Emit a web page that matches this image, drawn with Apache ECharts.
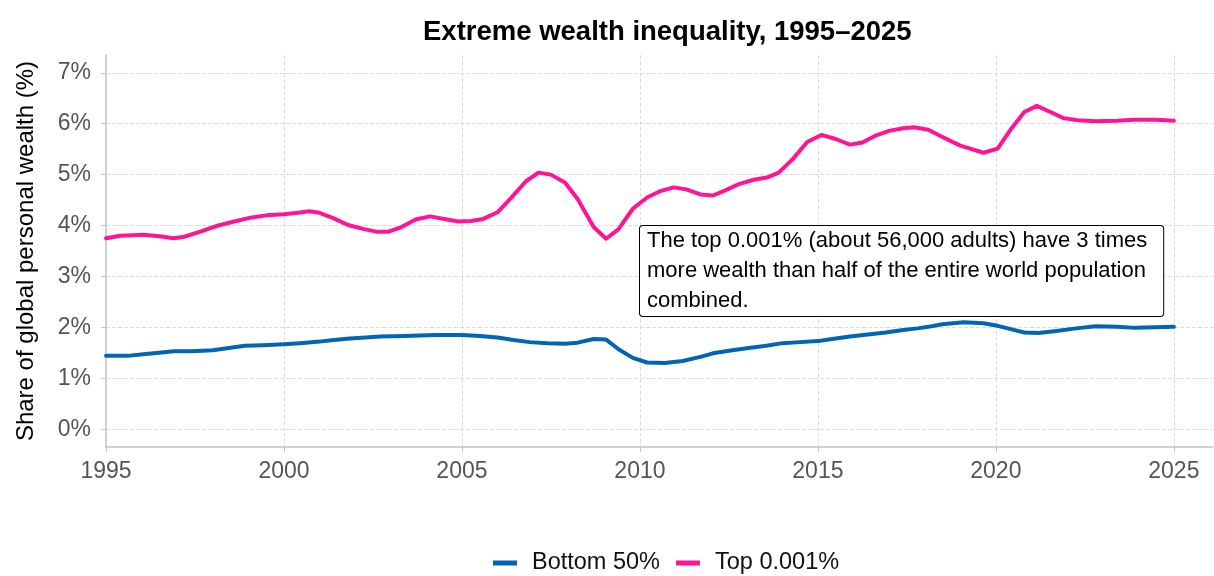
<!DOCTYPE html>
<html>
<head>
<meta charset="utf-8">
<title>Extreme wealth inequality, 1995–2025</title>
<script src="https://cdn.jsdelivr.net/npm/echarts@6/dist/echarts.min.js"></script>
<style>
  html, body { margin: 0; padding: 0; background: #fff; }
  #chart { width: 1214px; height: 576px; }
</style>
</head>
<body>
<div id="chart"></div>
<script>
// share of global personal wealth (%)
const topYears = [
  1995.0, 1995.4, 1996.05, 1996.5, 1996.9, 1997.2, 1997.65, 1998.1, 1998.6, 1999.1,
  1999.5, 2000.0, 2000.4, 2000.7, 2001.0, 2001.4, 2001.8, 2002.25, 2002.6, 2002.94,
  2003.3, 2003.7, 2004.1, 2004.5, 2004.9, 2005.25, 2005.6, 2006.0, 2006.35, 2006.8,
  2007.15, 2007.5, 2007.9, 2008.25, 2008.7, 2009.05, 2009.4, 2009.8, 2010.2, 2010.55,
  2010.95, 2011.3, 2011.7, 2012.05, 2012.4, 2012.8, 2013.2, 2013.6, 2013.9, 2014.3,
  2014.7, 2015.1, 2015.5, 2015.9, 2016.25, 2016.6, 2017.0, 2017.4, 2017.7, 2018.1,
  2018.5, 2019.0, 2019.65, 2020.05, 2020.4, 2020.8, 2021.15, 2021.5, 2021.9, 2022.3,
  2022.8, 2023.4, 2023.9, 2024.5, 2025.0
]
const topShare = [
  3.75, 3.80, 3.82, 3.79, 3.75, 3.78, 3.88, 3.99, 4.08, 4.16,
  4.20, 4.22, 4.25, 4.28, 4.25, 4.14, 4.01, 3.93, 3.88, 3.88,
  3.97, 4.12, 4.18, 4.13, 4.08, 4.09, 4.13, 4.26, 4.52, 4.87,
  5.04, 5.00, 4.84, 4.52, 3.97, 3.74, 3.93, 4.33, 4.55, 4.67,
  4.75, 4.71, 4.61, 4.59, 4.69, 4.82, 4.90, 4.95, 5.04, 5.31,
  5.64, 5.78, 5.70, 5.59, 5.63, 5.76, 5.86, 5.91, 5.93, 5.88,
  5.74, 5.57, 5.43, 5.51, 5.87, 6.23, 6.35, 6.24, 6.11, 6.07,
  6.05, 6.06, 6.08, 6.08, 6.06
]

const bottomYears = [
  1995.0, 1995.6, 1996.05, 1996.5, 1996.9, 1997.4, 1998.0, 1998.4, 1998.9, 1999.4,
  2000.0, 2000.45, 2001.0, 2001.4, 2001.85, 2002.3, 2002.7, 2003.4, 2003.8, 2004.3,
  2005.0, 2005.5, 2006.0, 2006.45, 2006.9, 2007.4, 2007.9, 2008.25, 2008.7, 2009.05,
  2009.4, 2009.8, 2010.2, 2010.7, 2011.2, 2011.7, 2012.05, 2012.5, 2013.0, 2013.55,
  2014.0, 2014.5, 2015.0, 2015.4, 2015.9, 2016.4, 2016.9, 2017.4, 2017.8, 2018.1,
  2018.5, 2019.1, 2019.65, 2020.05, 2020.5, 2020.8, 2021.2, 2021.7, 2022.25, 2022.8,
  2023.4, 2023.9, 2024.5, 2025.0
]
const bottomShare = [
  1.44, 1.44, 1.47, 1.50, 1.53, 1.53, 1.55, 1.59, 1.64, 1.65,
  1.67, 1.69, 1.72, 1.75, 1.78, 1.80, 1.82, 1.83, 1.84, 1.85,
  1.85, 1.83, 1.80, 1.75, 1.71, 1.69, 1.68, 1.70, 1.77, 1.76,
  1.57, 1.40, 1.31, 1.30, 1.34, 1.42, 1.49, 1.54, 1.59, 1.64,
  1.69, 1.71, 1.73, 1.77, 1.82, 1.86, 1.90, 1.95, 1.98, 2.01,
  2.06, 2.10, 2.08, 2.03, 1.95, 1.90, 1.89, 1.93, 1.98, 2.02,
  2.01, 1.99, 2.00, 2.01
]

const xTicks = [1995, 2000, 2005, 2010, 2015, 2020, 2025]
const yTicks = [0, 1, 2, 3, 4, 5, 6, 7]

const seriesNames = ['Bottom 50%', 'Top 0.001%']
const noteText = 'The top 0.001% (about 56,000 adults) have 3 times\nmore wealth than half of the entire world population\ncombined.'

const FONT = '"Liberation Sans", Arial, sans-serif'
const gridColor = '#dcdcdc'
const axisColor = '#c4c4c4'

const zip = (xs, ys) => xs.map((x, i) => [x, ys[i]])

const chart = echarts.init(document.getElementById('chart'), null, { renderer: 'canvas' })

const option = {
  animation: false,
  backgroundColor: '#fff',
  textStyle: { fontFamily: FONT },
  title: {
    text: 'Extreme wealth inequality, 1995–2025',
    left: 418,
    top: 13,
    textStyle: { fontFamily: FONT, fontSize: 27.5, fontWeight: 'bold', color: '#000' },
  },
  legend: {
    data: seriesNames,
    left: 488,
    top: 546,
    itemWidth: 24,
    itemHeight: 5,
    itemGap: 16,
    icon: 'rect',
    textStyle: { fontFamily: FONT, fontSize: 23.5, color: '#111', padding: [0, 0, 0, 10] },
  },
  grid: {
    left: 106,
    right: 1,
    top: 55,
    bottom: 129,
    containLabel: false,
  },
  xAxis: {
    type: 'value',
    min: 1995,
    max: 2026.1,
    axisLine: { show: true, onZero: false, lineStyle: { color: axisColor, width: 1.5 } },
    axisTick: { show: true, length: 5, customValues: xTicks, lineStyle: { color: axisColor } },
    axisLabel: {
      customValues: xTicks,
      fontFamily: FONT,
      fontSize: 23,
      color: '#555',
      margin: 13,
      formatter: (v) => String(v),
    },
    splitLine: { show: true, lineStyle: { color: gridColor, type: 'dashed', width: 1 } },
  },
  yAxis: {
    type: 'value',
    min: -0.35,
    max: 7.35,
    name: 'Share of global personal wealth (%)',
    nameLocation: 'middle',
    nameGap: 68,
    nameTextStyle: { fontFamily: FONT, fontSize: 24, color: '#000' },
    axisLine: { show: true, onZero: false, lineStyle: { color: axisColor, width: 1.5 } },
    axisTick: { show: true, length: 5, customValues: yTicks, lineStyle: { color: axisColor } },
    axisLabel: {
      customValues: yTicks,
      fontFamily: FONT,
      fontSize: 23,
      color: '#555',
      margin: 15,
      formatter: (v) => v + '%',
    },
    splitLine: { show: true, lineStyle: { color: gridColor, type: 'dashed', width: 1 } },
  },
  series: [
    {
      name: seriesNames[0],
      type: 'line',
      data: zip(bottomYears, bottomShare),
      showSymbol: false,
      smooth: false,
      lineStyle: { width: 4, color: '#0066B3', join: 'round', cap: 'round' },
      itemStyle: { color: '#0066B3' },
      z: 3,
    },
    {
      name: seriesNames[1],
      type: 'line',
      data: zip(topYears, topShare),
      showSymbol: false,
      smooth: false,
      lineStyle: { width: 4, color: '#FF1493', join: 'round', cap: 'round' },
      itemStyle: { color: '#FF1493' },
      z: 3,
    },
  ],
  graphic: [
    {
      type: 'text',
      left: 639,
      top: 225,
      z: 10,
      style: {
        text: noteText,
        font: '22px ' + FONT,
        fill: '#000',
        lineHeight: 30,
        backgroundColor: '#fff',
        borderColor: '#000',
        borderWidth: 1,
        borderRadius: 3,
        padding: [0, 16, 0, 7],
      },
    },
  ],
}

chart.setOption(option)
window.addEventListener('resize', chart.resize)
</script>
</body>
</html>
